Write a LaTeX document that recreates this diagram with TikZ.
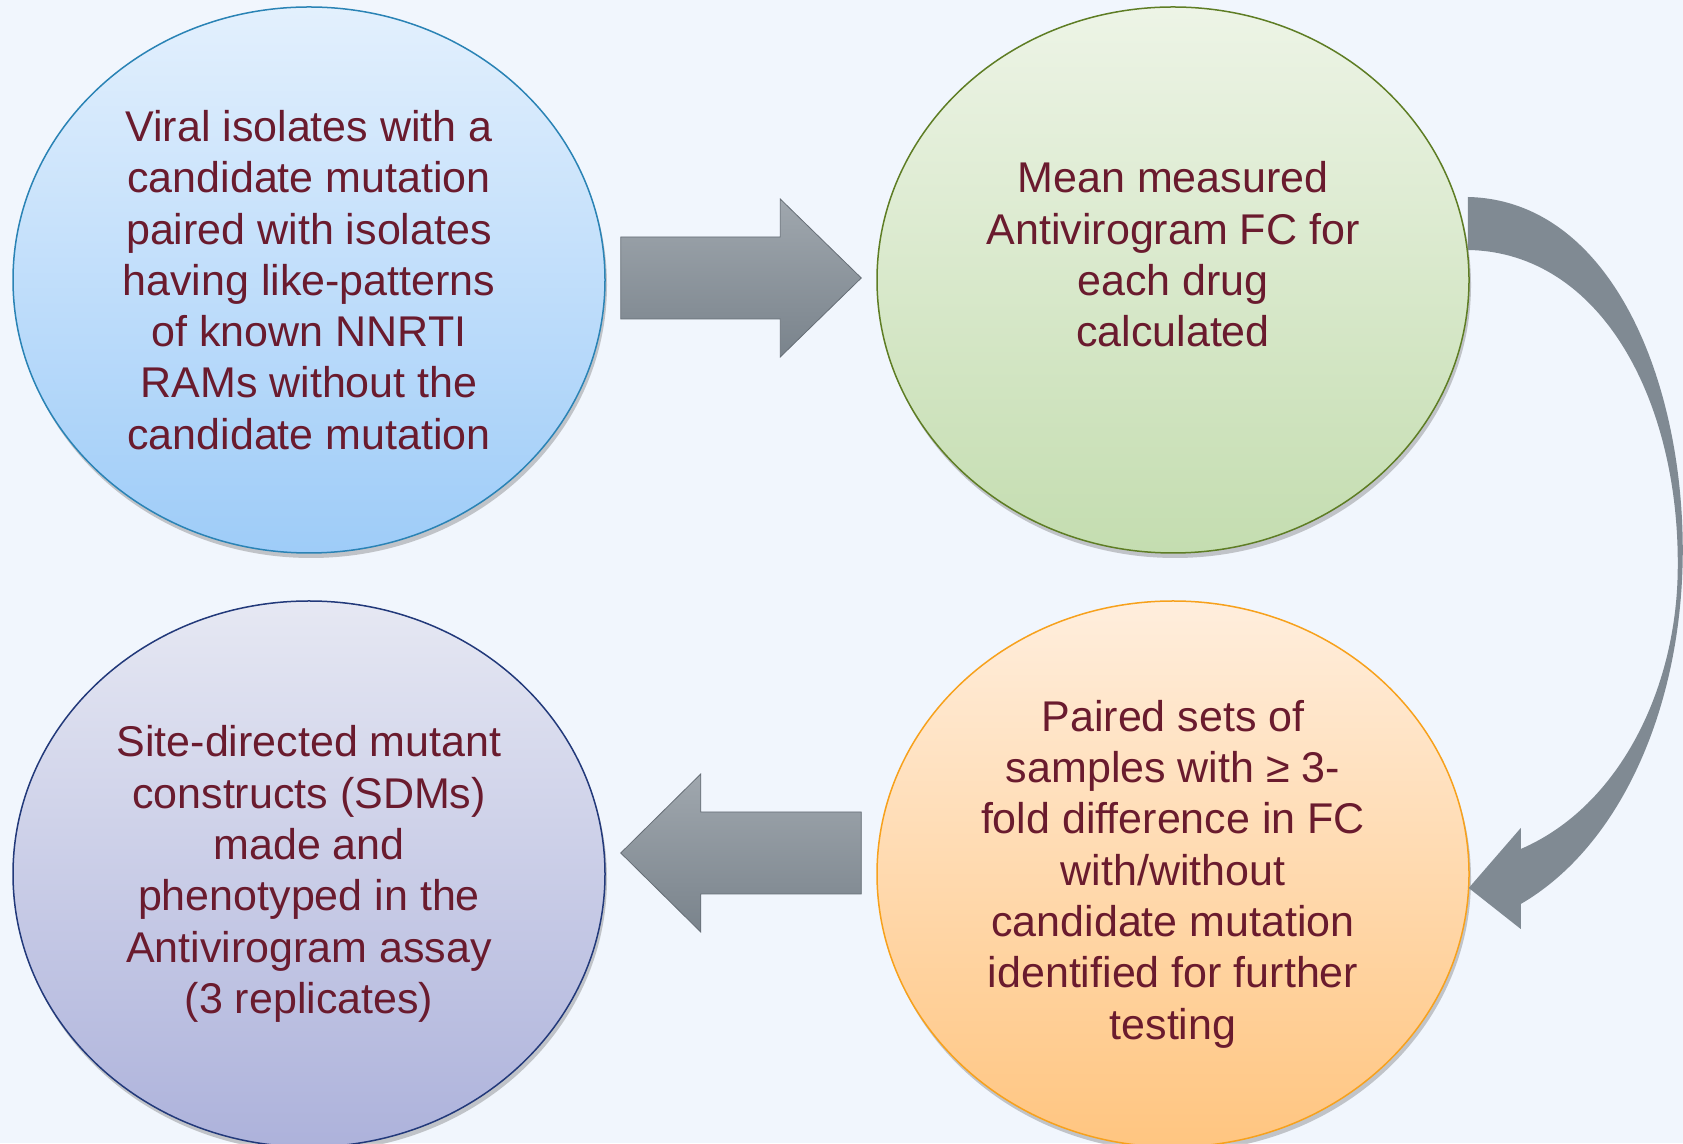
\documentclass[tikz,border=0pt]{standalone}
\usepackage{fontspec}
\setmainfont{Liberation Sans}
\usepackage{xcolor}
\usepackage{tikz}
\usetikzlibrary{positioning, calc, shapes.geometric, shadows}

\definecolor{bgcol}{HTML}{F1F6FD}
\definecolor{txtcol}{HTML}{6A1B2E}
\definecolor{arrcol}{HTML}{808A93}
\definecolor{blueTop}{HTML}{E3F0FD}
\definecolor{blueBot}{HTML}{9ECCF8}
\definecolor{blueLine}{HTML}{2A83B5}
\definecolor{greenTop}{HTML}{EDF4E6}
\definecolor{greenBot}{HTML}{C4DDB0}
\definecolor{greenLine}{HTML}{5E7D24}
\definecolor{orangeTop}{HTML}{FFEEDD}
\definecolor{orangeBot}{HTML}{FFC580}
\definecolor{orangeLine}{HTML}{F7A11C}
\definecolor{navyTop}{HTML}{E6E8F3}
\definecolor{navyBot}{HTML}{ADB2DB}
\definecolor{navyLine}{HTML}{22397A}

\begin{document}
\begin{tikzpicture}[
    x=1pt, y=1pt,
    circ/.style={ellipse, draw, line width=1.5pt, inner sep=0pt,
                 minimum width=592pt, minimum height=546pt,
                 align=center, text=txtcol,
                 font=\fontsize{43}{51.3}\selectfont,
                 drop shadow={shadow xshift=2pt, shadow yshift=-5pt,
                              opacity=0.35, fill=gray!80!black}},
    blockarr/.style={top color=arrcol!75!white, bottom color=arrcol!95!black,
                     draw=arrcol!80!black, line width=0.8pt, line join=miter},
    curvearr/.style={fill=arrcol}
  ]
  \fill[bgcol] (0,0) rectangle (1683,1143);
  \useasboundingbox (0,0) rectangle (1683,1143);

  \node[circ, draw=blueLine, top color=blueTop, bottom color=blueBot]
    (viral) at (309,863)
    {Viral isolates with a\\candidate mutation\\paired with isolates\\having like-patterns\\of known NNRTI\\RAMs without the\\candidate mutation};
  \node[circ, draw=greenLine, top color=greenTop, bottom color=greenBot]
    (mean) at (1173,863)
    {Mean measured\\Antivirogram FC for\\each drug\\calculated\\ \mbox{}};
  \node[circ, draw=orangeLine, top color=orangeTop, bottom color=orangeBot]
    (paired) at (1173,269)
    {Paired sets of\\samples with ≥ 3-\\fold difference in FC\\with/without\\candidate mutation\\identified for further\\testing};
  \node[circ, draw=navyLine, top color=navyTop, bottom color=navyBot]
    (sdm) at (309,269)
    {Site-directed mutant\\constructs (SDMs)\\made and\\phenotyped in the\\Antivirogram assay\\(3 replicates)};

  % block arrows between the circles
  \coordinate (ra) at ($(viral.east)+(15,2)$);
  \coordinate (rb) at ($(mean.west)+(-15,2)$);
  \draw[blockarr] ($(ra)+(0,41)$) -- ($(rb)+(-81,41)$) -- ($(rb)+(-81,79)$) -- (rb)
    -- ($(rb)+(-81,-79)$) -- ($(rb)+(-81,-41)$) -- ($(ra)+(0,-41)$) -- cycle;

  \coordinate (la) at ($(paired.west)+(-15,21)$);
  \coordinate (lb) at ($(sdm.east)+(15,21)$);
  \draw[blockarr] ($(la)+(0,41)$) -- ($(lb)+(80,41)$) -- ($(lb)+(80,79)$) -- (lb)
    -- ($(lb)+(80,-79)$) -- ($(lb)+(80,-41)$) -- ($(la)+(0,-41)$) -- cycle;

  % curved arrow on the right
  \fill[curvearr] ($(mean.east)+(-2,83)$)
    .. controls ($(mean.east)+(141,80)$) and ($(mean.east)+(213,-100)$) .. ($(mean.east)+(213,-270)$)
    .. controls ($(paired.east)+(213,168)$) and ($(paired.east)+(151,28)$) .. ($(paired.east)+(51,-30)$)
    -- ($(paired.east)+(51,-55)$) -- ($(paired.east)+(-1,-14)$) -- ($(paired.east)+(51,46)$)
    -- ($(paired.east)+(51,25)$)
    .. controls ($(paired.east)+(151,68)$) and ($(paired.east)+(208,188)$) .. ($(paired.east)+(208,308)$)
    .. controls ($(mean.east)+(209,-120)$) and ($(mean.east)+(131,28)$) .. ($(mean.east)+(-2,30)$)
    -- cycle;
\end{tikzpicture}
\end{document}
